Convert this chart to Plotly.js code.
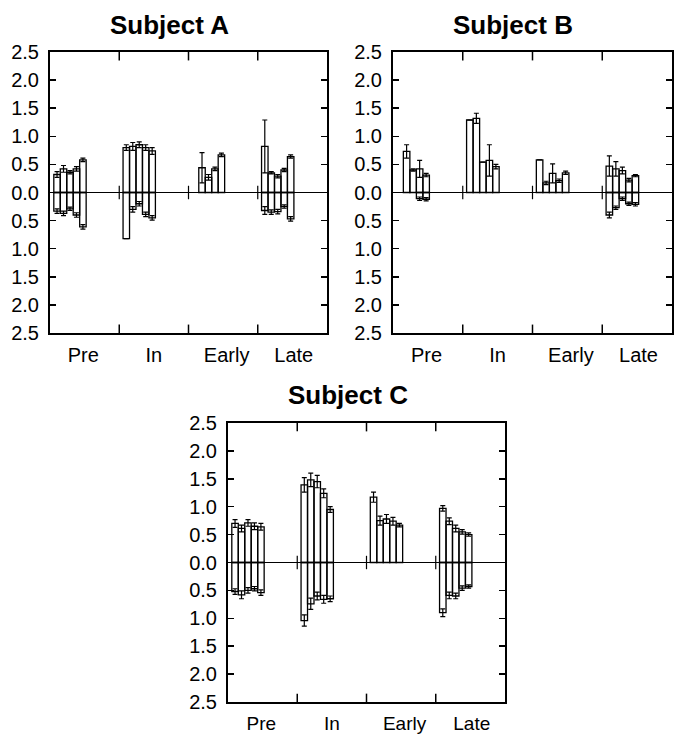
<!DOCTYPE html>
<html>
<head>
<meta charset="utf-8">
<script src="https://cdn.plot.ly/plotly-3.0.1.min.js"></script>
<style>html,body{margin:0;padding:0;background:#fff;}#chart{width:676px;height:737px;}</style>
</head>
<body>
<div id="chart"></div>
<script>
// Groups and tick labels
var groups = ["Pre", "In", "Early", "Late"];
var yTickVals = [-2.5, -2.0, -1.5, -1.0, -0.5, 0.0, 0.5, 1.0, 1.5, 2.0, 2.5];

// Subject A (5 bars per group: Pre, In, Early, Late)
var aAbove    = [0.32,0.42,0.36,0.42,0.58, 0.80,0.82,0.85,0.80,0.74, null,0.44,0.27,0.42,0.67, 0.82,0.35,0.29,0.40,0.64];
var aAboveErr = [0.05,0.06,0.03,0.04,0.03, 0.05,0.07,0.05,0.05,0.06, null,0.27,0.05,0.03,0.03, 0.47,0.02,0.03,0.03,0.03];
var aBelow    = [0.33,0.37,0.29,0.40,0.61, 0.82,0.30,0.20,0.39,0.45, null,null,null,null,null, 0.32,0.35,0.34,0.25,0.47];
var aBelowErr = [0.04,0.04,0.03,0.04,0.04, 0,0.05,0.04,0.04,0.04,    null,null,null,null,null, 0.07,0.04,0.04,0.03,0.04];

// Subject B
var bAbove    = [null,0.73,0.40,0.42,0.31, 1.29,1.32,0.54,0.57,0.46, 0.58,0.17,0.34,0.21,0.35, 0.47,0.42,0.39,0.22,0.30];
var bAboveErr = [null,0.12,0.02,0.15,0.03, 0,0.09,0,0.28,0.04,       0,0.03,0.17,0.03,0.03,    0.18,0.13,0.06,0.03,0.02];
var bBelow    = [null,null,null,0.11,0.12, null,null,null,null,null, null,null,null,null,null, 0.40,0.27,0.11,0.20,0.21];
var bBelowErr = [null,null,null,0.03,0.03, null,null,null,null,null, null,null,null,null,null, 0.05,0.03,0.03,0.03,0.03];

// Subject C
var cAbove    = [0.70,0.61,0.71,0.65,0.64, 1.39,1.48,1.45,1.24,0.95, 1.17,0.75,0.78,0.74,0.67, 0.97,0.74,0.61,0.55,0.50];
var cAboveErr = [0.07,0.06,0.06,0.06,0.06, 0.13,0.12,0.11,0.08,0.05, 0.09,0.08,0.08,0.07,0.03, 0.05,0.06,0.06,0.04,0.03];
var cBelow    = [0.52,0.58,0.50,0.47,0.54, 1.04,0.74,0.60,0.66,0.65, null,null,null,null,null, 0.90,0.59,0.60,0.46,0.43];
var cBelowErr = [0.05,0.07,0.05,0.04,0.05, 0.10,0.10,0.07,0.07,0.05, null,null,null,null,null, 0.07,0.06,0.05,0.04,0.03];

var subjects = [
  {name:"Subject A", above:aAbove, aboveErr:aAboveErr, below:aBelow, belowErr:aBelowErr},
  {name:"Subject B", above:bAbove, aboveErr:bAboveErr, below:bBelow, belowErr:bBelowErr},
  {name:"Subject C", above:cAbove, aboveErr:cAboveErr, below:cBelow, belowErr:cBelowErr}
];

var W = 676, H = 737;
// panel pixel boxes [left, right, top, bottom]
var boxes = [[50,327,52,333],[393,672,52,333],[228,505,423,702]];
var titlePos = [[169.5,25],[513,25],[347.5,395]];
var labelStandoff = [3, 3, 3];
var labelSize = [20, 20, 19];

var perGroup = 5, barW = 0.0934, offset = 0.055;
function xPos(n){
  var xs = [];
  for (var k = 0; k < n; k++){
    var g = Math.floor(k / perGroup), i = k % perGroup;
    xs.push(g + offset + barW * (i + 0.5));
  }
  return xs;
}
function neg(arr){ return arr.map(function(v){ return v === null ? null : -v; }); }
function errArr(arr){ return arr.map(function(v){ return v === null ? 0 : v; }); }

var font = {family: "Liberation Sans, Arial, sans-serif", color: "#000"};
var traces = [], layout = {
  width: W, height: H, margin: {l:0, r:0, t:0, b:0},
  paper_bgcolor: "#fff", plot_bgcolor: "#fff", showlegend: false,
  barmode: "overlay", font: font, shapes: [], annotations: []
};
var yText = yTickVals.map(function(v){ return Math.abs(v).toFixed(1); });

subjects.forEach(function(s, idx){
  var sfx = idx === 0 ? "" : String(idx + 1);
  var xa = "x" + sfx, ya = "y" + sfx;
  var xs = xPos(s.above.length);
  var common = {type:"bar", x: xs, width: barW, xaxis: xa, yaxis: ya,
    marker: {color: "rgba(255,255,255,0)", line: {color: "#000", width: 1.3}},
    hoverinfo: "skip"};
  traces.push(Object.assign({}, common, {y: s.above,
    error_y: {type:"data", array: errArr(s.aboveErr), visible:true, color:"#000", thickness:1.2, width:2.5}}));
  traces.push(Object.assign({}, common, {y: neg(s.below),
    error_y: {type:"data", array: errArr(s.belowErr), visible:true, color:"#000", thickness:1.2, width:2.5}}));

  var b = boxes[idx];
  layout["xaxis" + sfx] = {
    domain: [b[0]/W, b[1]/W], range: [0, 4], anchor: ya,
    tickvals: [0.48, 1.5, 2.55, 3.52], ticktext: groups, ticks: "", ticklen: 0,
    showline: true, mirror: true, linecolor: "#000", linewidth: 2,
    showgrid: false, zeroline: false, fixedrange: true,
    tickfont: {size: labelSize[idx], family: font.family, color: "#000"},
    ticklabelstandoff: labelStandoff[idx]
  };
  layout["yaxis" + sfx] = {
    domain: [1 - b[3]/H, 1 - b[2]/H], range: [-2.5, 2.5], anchor: xa,
    tickvals: yTickVals, ticktext: yText, ticks: "inside", ticklen: 6, tickwidth: 1.5,
    tickcolor: "#000", showline: true, mirror: "ticks", linecolor: "#000", linewidth: 2,
    showgrid: false, zeroline: true, zerolinecolor: "#000", zerolinewidth: 1.5,
    fixedrange: true, tickfont: {size: 20, family: font.family, color: "#000"},
    ticklabelstandoff: 5
  };
  // group separator ticks (top, bottom, and across zero line)
  [1, 2, 3].forEach(function(g){
    layout.shapes.push({type:"line", xref:xa, yref:ya, x0:g, x1:g, y0:2.5, y1:2.35, line:{color:"#000", width:1.5}});
    layout.shapes.push({type:"line", xref:xa, yref:ya, x0:g, x1:g, y0:-2.5, y1:-2.35, line:{color:"#000", width:1.5}});
    layout.shapes.push({type:"line", xref:xa, yref:ya, x0:g, x1:g, y0:-0.12, y1:0.12, line:{color:"#000", width:1.2}});
  });
  var tp = titlePos[idx];
  layout.annotations.push({text: "<b>" + s.name + "</b>", xref:"paper", yref:"paper",
    x: tp[0]/W, y: 1 - tp[1]/H, xanchor:"center", yanchor:"middle", showarrow:false,
    font: {size: 26, family: font.family, color: "#000"}});
});

Plotly.newPlot("chart", traces, layout, {staticPlot: true});
</script>
</body>
</html>
